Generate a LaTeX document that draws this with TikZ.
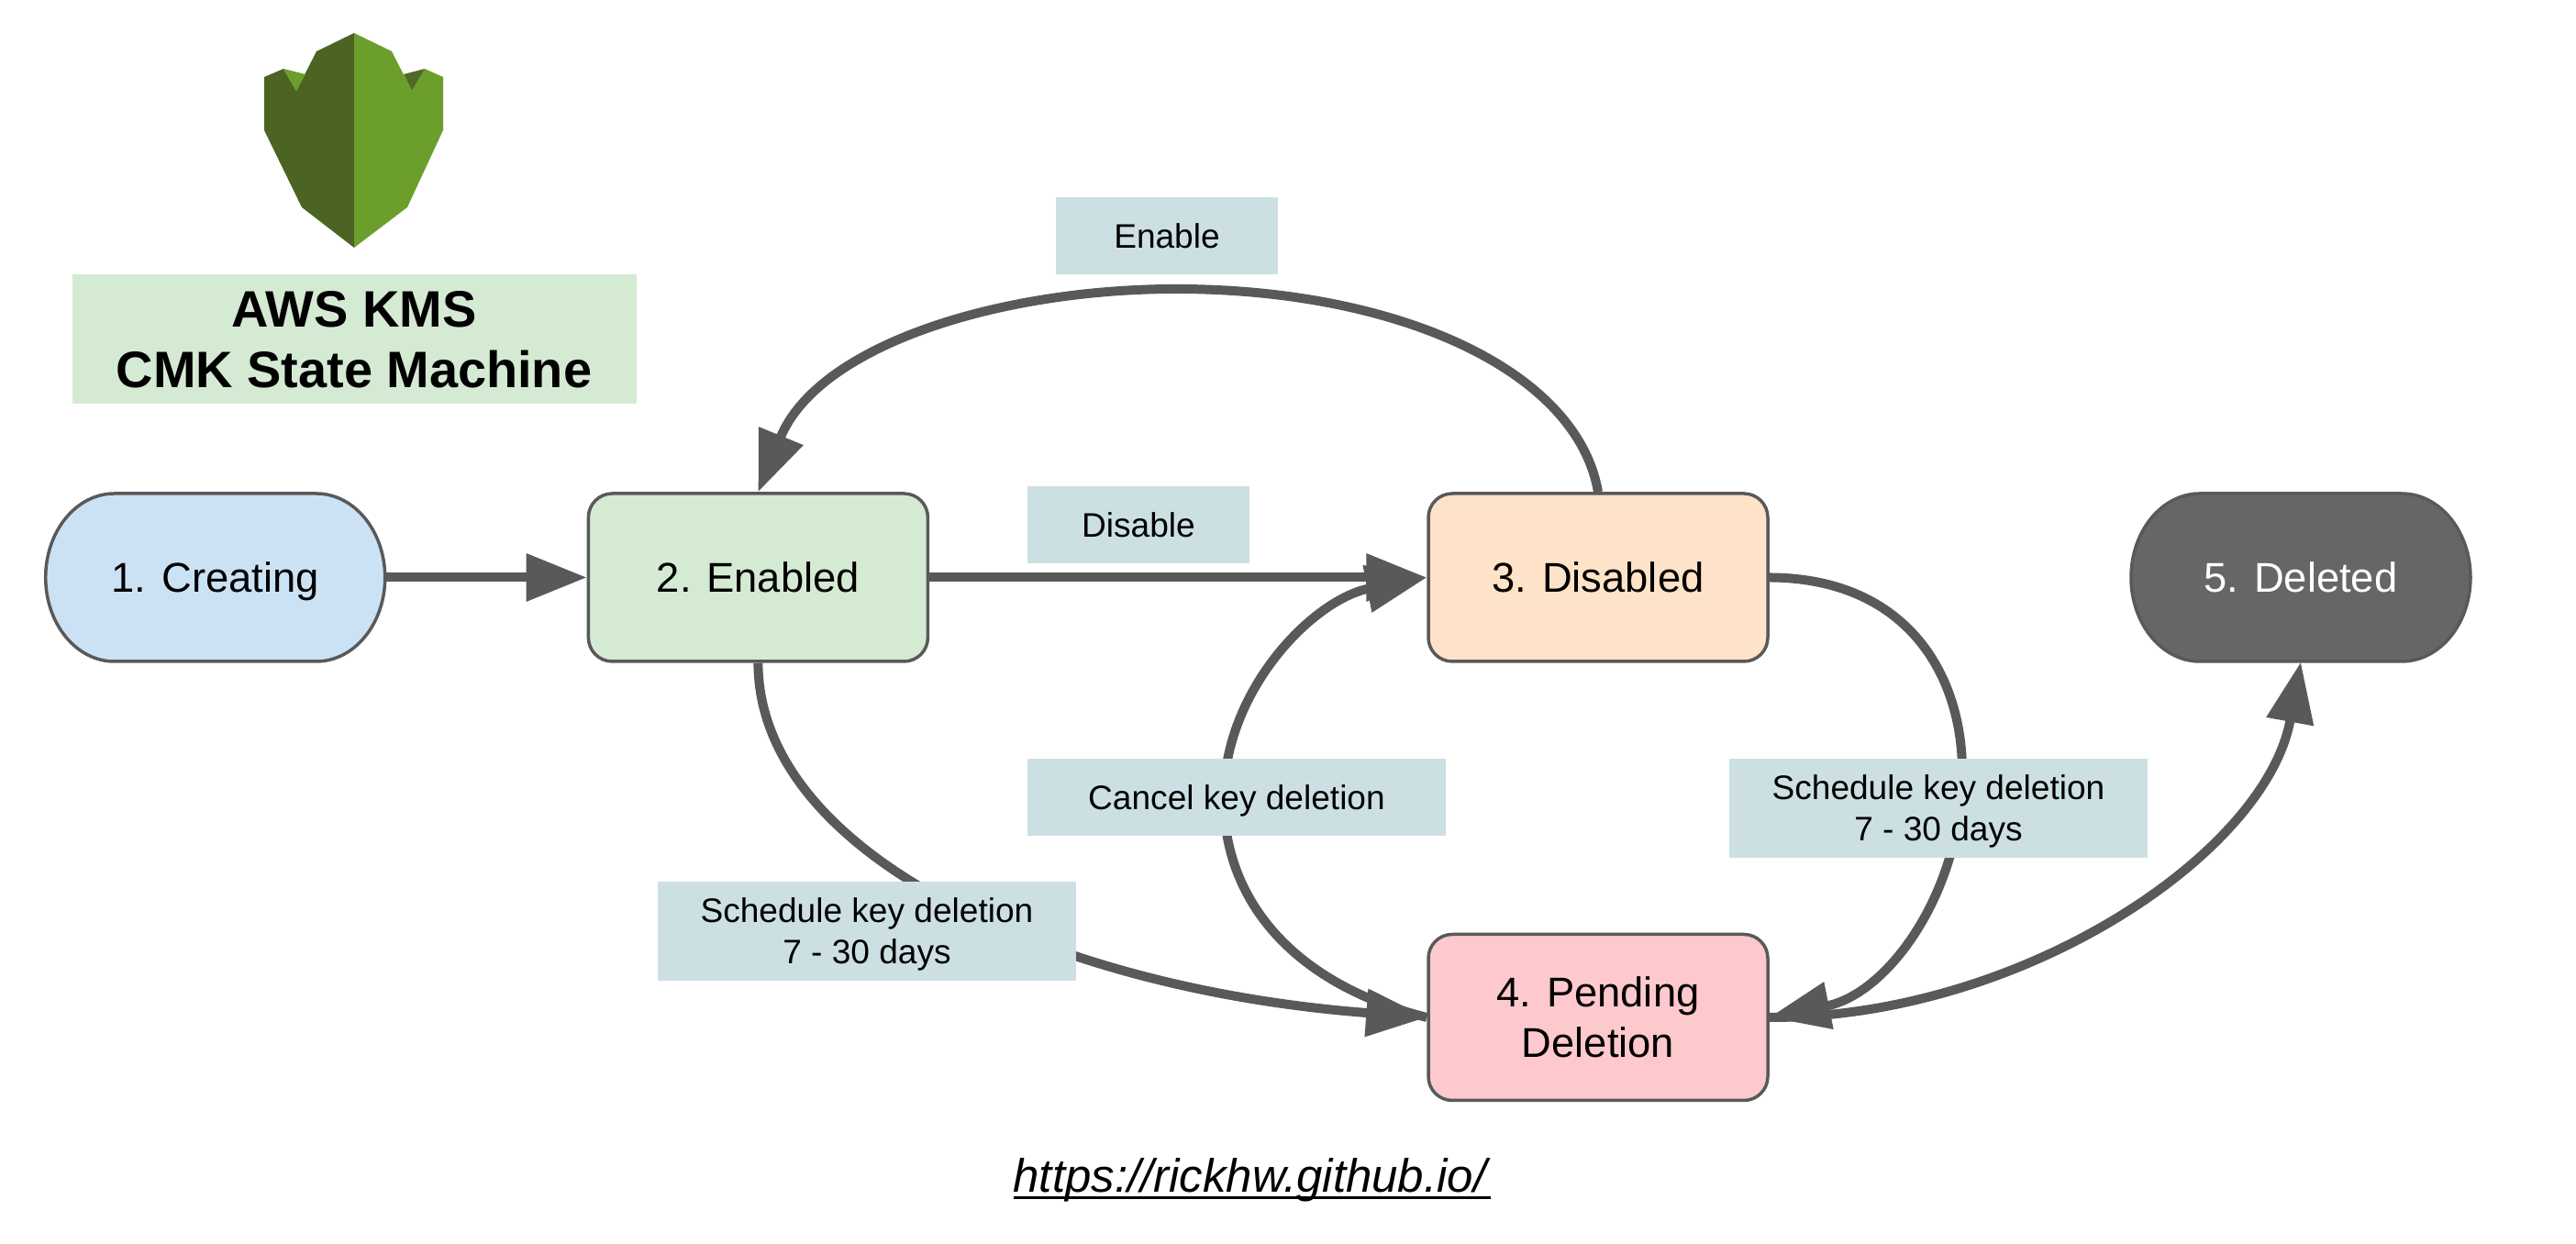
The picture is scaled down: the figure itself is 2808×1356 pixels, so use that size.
\documentclass[tikz,border=0pt]{standalone}
\usepackage{fontspec}
\setmainfont{Liberation Sans}
\usetikzlibrary{arrows.meta}
\definecolor{linegray}{HTML}{595959}
\definecolor{labelblue}{HTML}{CCE0E3}
\definecolor{titlegreen}{HTML}{D5EAD3}
\definecolor{creatingblue}{HTML}{CBE2F5}
\definecolor{disabledorange}{HTML}{FFE3C9}
\definecolor{pendingpink}{HTML}{FDC9CC}
\definecolor{deletedgray}{HTML}{666666}
\definecolor{leafdark}{HTML}{4B6423}
\definecolor{leaflight}{HTML}{6C9E2B}
\newcommand{\urlline}[1]{\setbox0=\hbox{#1}\rlap{\rule[-2.3pt]{\wd0}{.8pt}}\box0}
\tikzset{
	statebox/.style = {draw = linegray, line width = .35mm, rounded corners = 2.6mm, minimum width = 37mm, minimum height = 18.3mm, align = center, font = \fontsize{12.9}{15.8}\selectfont},
	statetext/.style = {minimum width = 37mm, minimum height = 18.3mm, text height = 9.2pt, text depth = 0pt, font = \fontsize{12.9}{15.8}\selectfont},
	pillline/.style = {draw = linegray, line width = .35mm},
	tag/.style = {fill = labelblue, align = center, inner sep = 0pt, minimum height = 8.35mm, text depth = 0pt, font = \fontsize{10.55}{12.8}\selectfont},
	conn/.style = {draw = linegray, line width = 1mm, -{Triangle[length = 6.6mm, width = 5mm]}}
}

\begin{document}
\begin{tikzpicture}[x = .1mm, y = .1mm]
	\useasboundingbox (0,0) rectangle (2808,1356);

	% logo
	\fill [leafdark] (386,1320) -- (345,1300) -- (323,1257) -- (309,1281) -- (288,1272) -- (288,1214) -- (329,1130) -- (386,1086) -- cycle;
	\fill [leaflight] (309,1281) -- (333,1275) -- (323,1257) -- cycle;
	\fill [leaflight] (386,1320) -- (427,1300) -- (449,1257) -- (463,1281) -- (483,1272) -- (483,1214) -- (444,1130) -- (386,1086) -- cycle;
	\fill [leafdark!90!leaflight] (440,1275) -- (463,1281) -- (449,1257) -- cycle;
	\node [fill = titlegreen, minimum width = 61.5mm, minimum height = 14.1mm, align = center, inner sep = 0pt, font = \fontsize{15.9}{18.8}\selectfont\bfseries] (title) at (386,986) {AWS KMS\\CMK State Machine};

	% states
	\draw [pillline, fill = creatingblue] (49.7,726.5) arc [start angle = 180, end angle = 90, x radius = 75, y radius = 91.5] -- (344.7,818) arc [start angle = 90, end angle = -90, x radius = 75, y radius = 91.5] -- (124.7,635) arc [start angle = 270, end angle = 180, x radius = 75, y radius = 91.5] -- cycle;
	\node [statetext] (creating) at (234.7,726.5) {1. Creating};
	\node [statebox, fill = titlegreen] (enabled) at (826.4,726.5) {2. Enabled};
	\node [statebox, fill = disabledorange] (disabled) at (1742,726.5) {3. Disabled};
	\node [statebox, fill = pendingpink, minimum height = 18.1mm] (pending) at (1742,247) {4. Pending\\Deletion};
	\draw [pillline, fill = deletedgray] (2323,726.5) arc [start angle = 180, end angle = 90, x radius = 75, y radius = 91.5] -- (2618,818) arc [start angle = 90, end angle = -90, x radius = 75, y radius = 91.5] -- (2398,635) arc [start angle = 270, end angle = 180, x radius = 75, y radius = 91.5] -- cycle;
	\node [statetext, text = white] (deleted) at (2508,726.5) {5. Deleted};

	% transitions
	\draw [conn] (creating.east) -- (enabled.west);
	\draw [conn] (enabled.east) -- (disabled.west);
	\draw [conn] (disabled.north) .. controls (1719,953) and (1522,1041) .. (1282,1041) .. controls (1090,1041) and (892,980) .. (enabled.north);
	\draw [conn] (enabled.south) .. controls (827,425) and (1146,278) .. (pending.west);
	\draw [conn] (pending.west) .. controls (1414,282) and (1334,371) .. (1334,486) .. controls (1334,604) and (1432,703) .. (disabled.west);
	\draw [conn] (disabled.east) .. controls (2077,726) and (2139,622) .. (2139,515) .. controls (2139,385) and (2059,273) .. (pending.east);
	\draw [conn] (pending.east) .. controls (2202,246) and (2470,425) .. (deleted.south);

	% labels
	\node [tag, minimum width = 24.2mm] (enabletag) at (1272,1099) {Enable};
	\node [tag, minimum width = 24.2mm] (disabletag) at (1241,784) {Disable};
	\node [tag, minimum width = 45.6mm] (canceltag) at (1348,487) {Cancel key deletion};
	\node [tag, minimum width = 45.6mm, minimum height = 10.85mm] (rightschedule) at (2113,475) {Schedule key deletion\\7 - 30 days};
	\node [tag, minimum width = 45.6mm, minimum height = 10.85mm] (leftschedule) at (945,341) {Schedule key deletion\\7 - 30 days};
	\node [font = \fontsize{14.5}{17}\selectfont] (urltext) at (1364.6,70) {\urlline{\textit{https://rickhw.github.io/}}};
\end{tikzpicture}
\end{document}
